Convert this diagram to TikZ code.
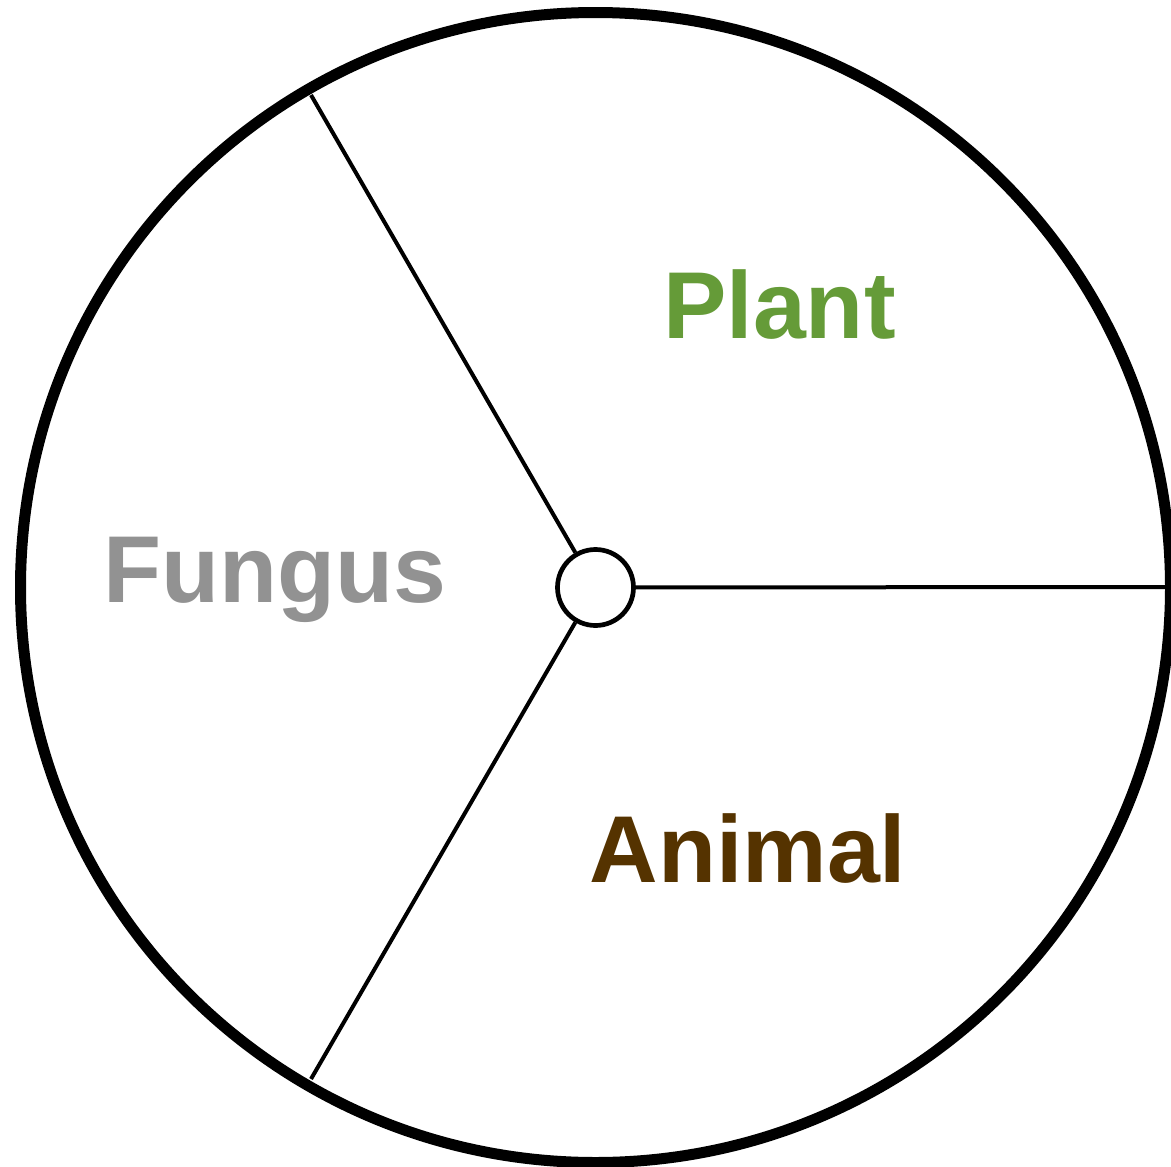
\documentclass[tikz,border=0pt]{standalone}
\usepackage{fontspec}
\setmainfont{Liberation Sans}
\definecolor{plantgreen}{HTML}{659B38}
\definecolor{animalbrown}{HTML}{553300}
\definecolor{fungusgray}{HTML}{929292}
\begin{document}
\begin{tikzpicture}[x=1pt,y=-1pt,
  spoke/.style={line width=4pt},
  label/.style={anchor=base,inner sep=0pt,font=\fontsize{95}{95}\selectfont\bfseries}]
\useasboundingbox (0,0) rectangle (1171,1167);
\coordinate (o) at (595.5,587.5);
\draw[line width=11pt] (o) circle[radius=575pt];
\node[circle,draw,line width=4.7pt,minimum size=76pt,inner sep=0pt,fill=white] (c) at (o) {};
\coordinate (ptop) at (311,95);
\coordinate (pbot) at (311,1079);
\coordinate (pright) at (1165,587);
\draw[spoke] (c) -- (ptop);
\draw[spoke] (c) -- (pbot);
\draw[spoke] (c) -- (pright);
\node[label,text=plantgreen] (plant) at (779.5,338) {Plant};
\node[label,text=animalbrown] (animal) at (748,882) {Animal};
\node[label,text=fungusgray] (fungus) at (275,602) {Fungus};
\end{tikzpicture}
\end{document}
